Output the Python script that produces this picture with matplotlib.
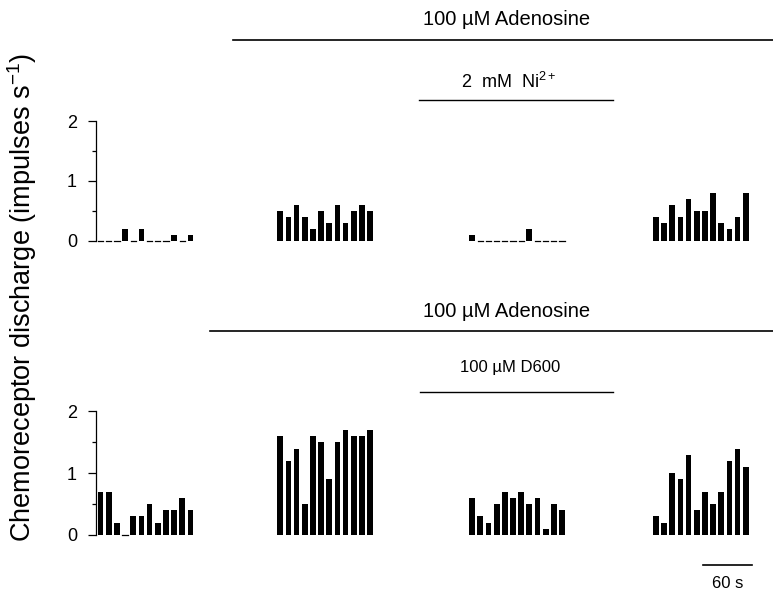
import matplotlib.pyplot as plt
import numpy as np

plt.rcParams["font.family"] = ["Liberation Sans", "DejaVu Sans"]
plt.rcParams["mathtext.default"] = "regular"

# discharge in 10 s bins (impulses/s), four periods per trace
top_ctrl = [0, 0, 0, 0.2, 0, 0.2, 0, 0, 0, 0.1, 0, 0.1]
top_ado = [0.5, 0.4, 0.6, 0.4, 0.2, 0.5, 0.3, 0.6, 0.3, 0.5, 0.6, 0.5]
top_ni = [0.1, 0, 0, 0, 0, 0, 0, 0.2, 0, 0, 0, 0]
top_wash = [0.4, 0.3, 0.6, 0.4, 0.7, 0.5, 0.5, 0.8, 0.3, 0.2, 0.4, 0.8]

bot_ctrl = [0.7, 0.7, 0.2, 0, 0.3, 0.3, 0.5, 0.2, 0.4, 0.4, 0.6, 0.4]
bot_ado = [1.6, 1.2, 1.4, 0.5, 1.6, 1.5, 0.9, 1.5, 1.7, 1.6, 1.6, 1.7]
bot_d600 = [0.6, 0.3, 0.2, 0.5, 0.7, 0.6, 0.7, 0.5, 0.6, 0.1, 0.5, 0.4]
bot_wash = [0.3, 0.2, 1.0, 0.9, 1.3, 0.4, 0.7, 0.5, 0.7, 1.2, 1.4, 1.1]

bin_s = 10
group_start = [0, 220, 455, 680]  # s, start of each recording segment

# pixel mapping helpers (figure 773 px wide)
px_per_s = 0.8167
x0_px = 96.5
xlim = (-x0_px / px_per_s, (773 - x0_px) / px_per_s)

fig = plt.figure(figsize=(7.73, 5.92), dpi=100)


def draw_trace(ax, groups):
    for start, vals in zip(group_start, groups):
        vals = np.array(vals)
        x = start + bin_s * (np.arange(len(vals)) + 0.5)
        nz = vals > 0
        ax.bar(x[nz], vals[nz], width=bin_s * 0.7, color="black")
        # zero bins drawn as short dashes
        for xi in x[~nz]:
            ax.plot([xi - 3.2, xi + 3.2], [0, 0], color="black", lw=0.9)
    ax.set_xlim(*xlim)
    for s in ["top", "right", "bottom"]:
        ax.spines[s].set_visible(False)
    ax.spines["left"].set_position(("data", 0))
    ax.spines["left"].set_bounds(0, 2)
    ax.spines["left"].set_linewidth(0.9)
    ax.set_xticks([])
    ax.set_yticks([0, 1, 2])
    ax.set_yticks([0.5, 1.5], minor=True)
    ax.tick_params(axis="y", which="major", length=6, width=0.9, pad=8, labelsize=13)
    ax.tick_params(axis="y", which="minor", length=3, width=0.9)


# top trace: Ni2+
ax1 = fig.add_axes([0, 0.5, 1, 0.5])
ax1.set_ylim(-0.917, 4.017)
draw_trace(ax1, [top_ctrl, top_ado, top_ni, top_wash])
ax1.plot([167, xlim[1]], [3.35, 3.35], color="black", lw=1.2)
ax1.text(502, 3.70, "100 µM Adenosine", ha="center", va="center", fontsize=14.5)
ax1.plot([395, 632], [2.35, 2.35], color="black", lw=1)
ax1.text(505, 2.65, "2  mM  Ni$^{2+}$", ha="center", va="center", fontsize=13)

# bottom trace: D600
ax2 = fig.add_axes([0, 0, 1, 0.5])
ax2.set_ylim(-0.923, 3.87)
draw_trace(ax2, [bot_ctrl, bot_ado, bot_d600, bot_wash])
ax2.plot([139, xlim[1]], [3.30, 3.30], color="black", lw=1.2)
ax2.text(502, 3.62, "100 µM Adenosine", ha="center", va="center", fontsize=14.5)
ax2.plot([396, 632], [2.32, 2.32], color="black", lw=1)
ax2.text(507, 2.72, "100 µM D600", ha="center", va="center", fontsize=12)

# 60 s scale bar
ax2.plot([743, 803], [-0.486, -0.486], color="black", lw=1.2)
ax2.text(773, -0.78, "60 s", ha="center", va="center", fontsize=12)

fig.text(22 / 773, 1 - 298 / 592, "Chemoreceptor discharge (impulses s$^{-1}$)",
         rotation=90, ha="center", va="center", fontsize=19.5)

fig.savefig("out.png", dpi=100)
